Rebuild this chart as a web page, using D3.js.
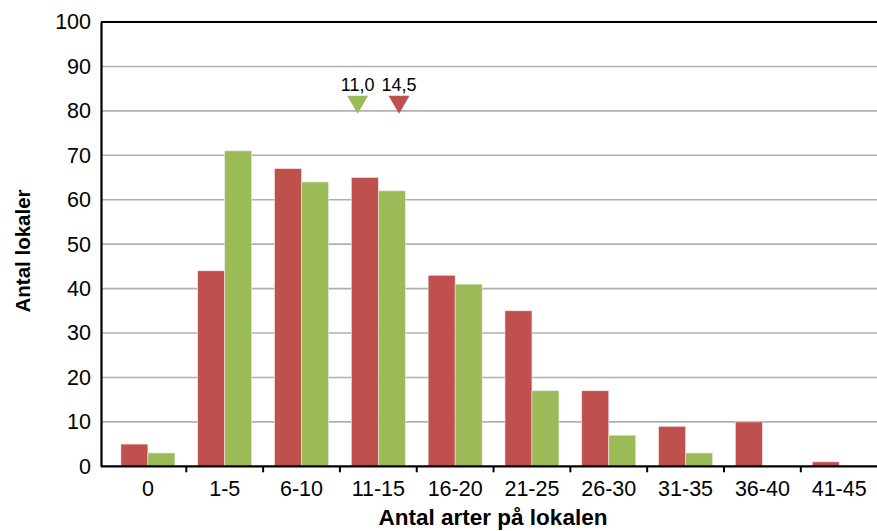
<!DOCTYPE html>
<html>
<head>
<meta charset="utf-8">
<script src="https://cdn.jsdelivr.net/npm/d3@7"></script>
<style>
  html, body { margin: 0; padding: 0; background: #fff; }
  svg { display: block; font-family: "Liberation Sans", Arial, sans-serif; }
</style>
</head>
<body>
<svg id="chart" width="877" height="531"></svg>
<script>
// Number of species per site, grouped in classes
const categories = ["0", "1-5", "6-10", "11-15", "16-20", "21-25", "26-30", "31-35", "36-40", "41-45"];
const seriesNames = ["red", "green"];
const redValues   = [5, 44, 67, 65, 43, 35, 17, 9, 10, 1];
const greenValues = [3, 71, 64, 62, 41, 17, 7, 3, 0, 0];
const yTicks = [0, 10, 20, 30, 40, 50, 60, 70, 80, 90, 100];
// Mean number of species per series, shown as markers
const meanValues = [11.0, 14.5];
const meanLabels = ["11,0", "14,5"];
const meanSeries = ["green", "red"];

const colors = { red: "#c0504d", green: "#9bbb59" };

const svg = d3.select("#chart");
const plot = { left: 101, right: 877, top: 22, bottom: 466.3 };

const x0 = d3.scaleBand().domain(categories).range([109.5, 877.6]).padding(0);
const groupW = 54;
const x1 = d3.scaleBand().domain(seriesNames)
  .range([(x0.step() - groupW) / 2, (x0.step() + groupW) / 2]).padding(0);
const y = d3.scaleLinear().domain([0, 100]).range([plot.bottom, plot.top]);

// Gridlines
svg.append("g").selectAll("line").data(yTicks.filter(d => d > 0 && d < 100)).join("line")
  .attr("x1", plot.left).attr("x2", plot.right)
  .attr("y1", d => y(d)).attr("y2", d => y(d))
  .attr("stroke", "#b0b0b0").attr("stroke-width", 1.6);

// Bars
const rows = categories.map((c, i) => ({ cat: c, red: redValues[i], green: greenValues[i] }));
const groups = svg.append("g").selectAll("g").data(rows).join("g")
  .attr("transform", d => `translate(${x0(d.cat)},0)`);
groups.selectAll("rect")
  .data(d => seriesNames.map(s => ({ s, v: d[s] })).filter(e => e.v > 0))
  .join("rect")
  .attr("x", d => x1(d.s)).attr("width", x1.bandwidth())
  .attr("y", d => y(d.v)).attr("height", d => y(0) - y(d.v))
  .attr("fill", d => colors[d.s])
  .attr("stroke", "#f4e6e6").attr("stroke-width", 0.6);

// Top border
svg.append("line").attr("x1", plot.left).attr("x2", plot.right)
  .attr("y1", y(100)).attr("y2", y(100)).attr("stroke", "#000").attr("stroke-width", 2);

// Y axis
const yAxis = d3.axisLeft(y).tickValues(yTicks).tickSize(0).tickPadding(10);
const yg = svg.append("g").attr("transform", `translate(${plot.left},0)`).call(yAxis);
yg.select(".domain").attr("stroke", "#000").attr("stroke-width", 2.2);
yg.selectAll("text").attr("font-size", 21.5).attr("fill", "#000")
  .attr("font-family", "Liberation Sans, Arial, sans-serif");

// X axis
const xg = svg.append("g").attr("transform", `translate(0,${plot.bottom})`);
xg.append("line").attr("x1", plot.left).attr("x2", plot.right)
  .attr("stroke", "#000").attr("stroke-width", 2.2);
xg.selectAll("line.tick").data(categories.slice(1)).join("line").attr("class", "tick")
  .attr("x1", d => x0(d)).attr("x2", d => x0(d))
  .attr("y1", 0).attr("y2", 6).attr("stroke", "#000").attr("stroke-width", 2);
xg.selectAll("text").data(categories).join("text")
  .attr("x", d => x0(d) + x0.bandwidth() / 2).attr("y", 29.5)
  .attr("text-anchor", "middle").attr("font-size", 21.5).attr("fill", "#000")
  .text(d => d);

// Axis titles
svg.append("text").attr("x", 493).attr("y", 525).attr("text-anchor", "middle")
  .attr("font-size", 22.5).attr("font-weight", "bold").text("Antal arter på lokalen");
svg.append("text").attr("transform", `translate(30,${251}) rotate(-90)`)
  .attr("text-anchor", "middle").attr("font-size", 20.5).attr("font-weight", "bold")
  .text("Antal lokaler");

// Mean markers, placed within the 11-15 class
const meanX = d3.scaleLinear().domain([9.5, 16])
  .range([x0("11-15"), x0("11-15") + x0.step()]);
const markerTip = y(80) + 3;
const mk = svg.append("g").selectAll("g").data(meanValues.map((v, i) => ({ v, label: meanLabels[i], s: meanSeries[i] })))
  .join("g").attr("transform", d => `translate(${meanX(d.v)},${markerTip})`);
mk.append("path").attr("d", "M-10.5,-18 L10.5,-18 L0,0 Z").attr("fill", d => colors[d.s]);
mk.append("text").attr("y", -22.5).attr("text-anchor", "middle").attr("font-size", 18)
  .text(d => d.label);
</script>
</body>
</html>
